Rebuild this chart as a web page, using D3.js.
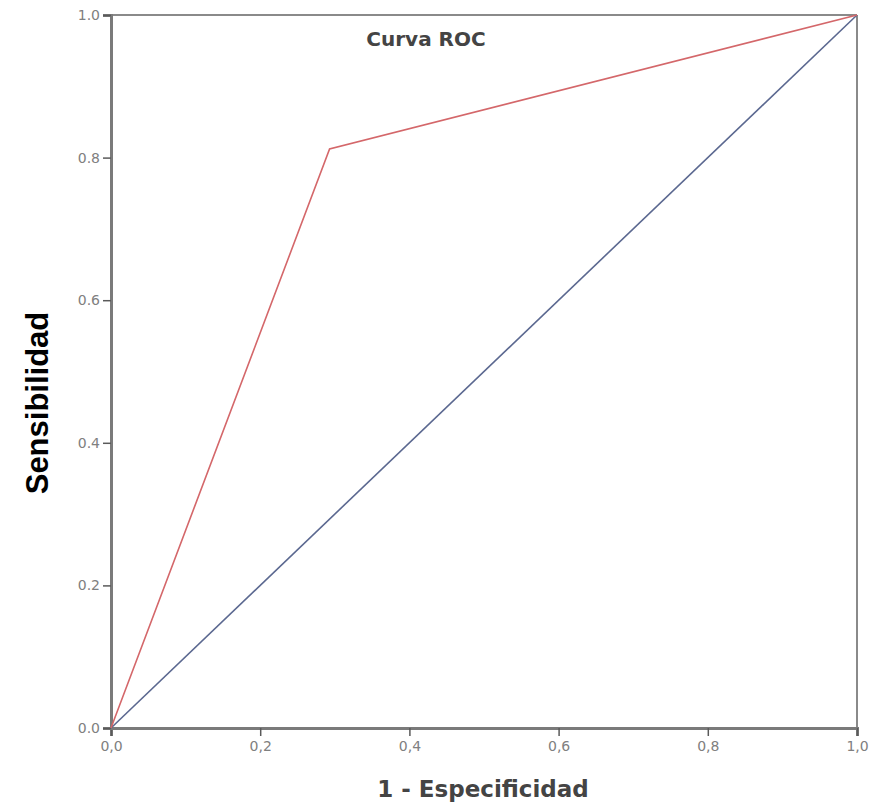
<!DOCTYPE html>
<html>
<head>
<meta charset="utf-8">
<script src="https://cdn.jsdelivr.net/npm/d3@7"></script>
<style>
  body { margin: 0; background: #fff; }
</style>
</head>
<body>
<script>
'use strict';

// ROC curve points (1 - especificidad, sensibilidad)
let rocX = [0, 0.293, 1];
let rocY = [0, 0.812, 1];
// reference diagonal
let diagX = [0, 1];
let diagY = [0, 1];
// tick values
let tickValues = [0, 0.2, 0.4, 0.6, 0.8, 1.0];
let xTickLabels = ["0,0", "0,2", "0,4", "0,6", "0,8", "1,0"];
let yTickLabels = ["0.0", "0.2", "0.4", "0.6", "0.8", "1.0"];

let svg = d3.select('body').append('svg')
  .attr('width', 882)
  .attr('height', 802);

let xScale = d3.scaleLinear().domain([0, 1]).range([111, 857]);
let yScale = d3.scaleLinear().domain([0, 1]).range([728, 15]);

// frame top/right
svg.append('line')
  .attr('x1', xScale(0)).attr('x2', xScale(1))
  .attr('y1', yScale(1)).attr('y2', yScale(1))
  .attr('stroke', '#8a8a8a').attr('stroke-width', 2);
svg.append('line')
  .attr('x1', xScale(1)).attr('x2', xScale(1))
  .attr('y1', yScale(1)).attr('y2', yScale(0))
  .attr('stroke', '#8a8a8a').attr('stroke-width', 2);

// axes
let xAxis = d3.axisBottom(xScale)
  .tickValues(tickValues)
  .tickSize(8)
  .tickPadding(5)
  .tickFormat((d, i) => xTickLabels[i]);
let gx = svg.append('g')
  .attr('transform', 'translate(0,' + yScale(0) + ')')
  .call(xAxis);

let yAxis = d3.axisLeft(yScale)
  .tickValues(tickValues)
  .tickSize(8)
  .tickPadding(3)
  .tickFormat((d, i) => yTickLabels[i]);
let gy = svg.append('g')
  .attr('transform', 'translate(' + xScale(0) + ',0)')
  .call(yAxis);

[gx, gy].forEach(g => {
  g.attr('font-size', 14).attr('font-family', 'DejaVu Sans, sans-serif');
  g.select('.domain').attr('stroke', '#7a7a7a').attr('stroke-width', 3);
  g.selectAll('.tick line').attr('stroke', '#5a5a5a').attr('stroke-width', 1.5);
  g.selectAll('.tick text').attr('fill', '#808080');
});

// curves
let line = d3.line()
  .x(d => xScale(d[0]))
  .y(d => yScale(d[1]));

svg.append('path')
  .datum(d3.zip(diagX, diagY))
  .attr('d', line)
  .attr('fill', 'none')
  .attr('stroke', '#5b6890')
  .attr('stroke-width', 1.6);

svg.append('path')
  .datum(d3.zip(rocX, rocY))
  .attr('d', line)
  .attr('fill', 'none')
  .attr('stroke', '#d4676a')
  .attr('stroke-width', 1.6);

// labels
svg.append('text')
  .attr('x', 426)
  .attr('y', 46)
  .attr('text-anchor', 'middle')
  .style('font-family', 'DejaVu Sans, sans-serif')
  .style('font-weight', 'bold')
  .style('font-size', '20px')
  .attr('fill', '#444')
  .text('Curva ROC');

svg.append('text')
  .attr('x', 483)
  .attr('y', 797)
  .attr('text-anchor', 'middle')
  .style('font-family', 'DejaVu Sans, sans-serif')
  .style('font-weight', 'bold')
  .style('font-size', '23px')
  .attr('fill', '#444')
  .text('1 - Especificidad');

svg.append('text')
  .attr('transform', 'translate(48, 403)rotate(-90)')
  .attr('text-anchor', 'middle')
  .style('font-family', 'Liberation Sans, Arial, sans-serif')
  .style('font-weight', 'bold')
  .style('font-size', '31px')
  .attr('fill', '#000')
  .text('Sensibilidad');
</script>
</body>
</html>
